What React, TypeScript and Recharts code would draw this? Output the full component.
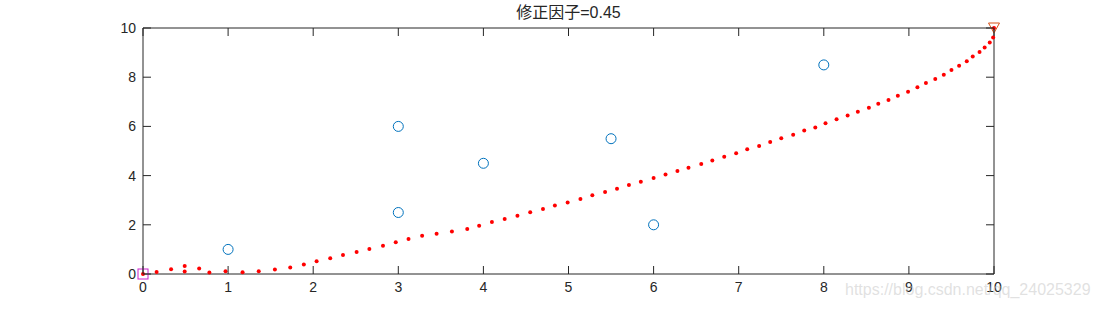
import { ReferenceLine, Scatter, ScatterChart, XAxis, YAxis } from "recharts"

const title = "修正因子=0.45"
const xTicks = [0, 1, 2, 3, 4, 5, 6, 7, 8, 9, 10]
const yTicks = [0, 2, 4, 6, 8, 10]

// sample points (blue circles)
const sampleX = [1, 3, 3, 4, 5.5, 6, 8]
const sampleY = [1, 2.5, 6, 4.5, 5.5, 2, 8.5]

// start / end markers
const startPoint = [{ x: 0, y: 0 }]
const endPoint = [{ x: 10, y: 10 }]

// fitted curve (red dots)
const curveX = [
  0, 0.16, 0.33, 0.49, 0.49, 0.66, 0.78, 0.97, 1.17, 1.36, 1.55, 1.73, 1.89, 2.04, 2.2, 2.35, 2.51, 2.66, 2.82,
  2.97, 3.12, 3.28, 3.45, 3.63, 3.81, 3.95, 4.1, 4.25, 4.4, 4.55, 4.7, 4.84, 4.99, 5.14, 5.28, 5.43, 5.57, 5.71,
  5.85, 6.0, 6.14, 6.28, 6.41, 6.56, 6.69, 6.83, 6.97, 7.1, 7.24, 7.37, 7.5, 7.64, 7.77, 7.9, 8.02, 8.15, 8.28,
  8.4, 8.53, 8.64, 8.76, 8.87, 8.99, 9.1, 9.2, 9.31, 9.41, 9.5, 9.59, 9.68, 9.75, 9.83, 9.89, 9.95, 9.99, 10,
]
const curveY = [
  0, 0.08, 0.19, 0.33, 0.1, 0.22, 0.06, 0.11, 0.07, 0.11, 0.18, 0.26, 0.39, 0.52, 0.64, 0.77, 0.89, 1.02, 1.15,
  1.29, 1.42, 1.55, 1.64, 1.73, 1.83, 1.96, 2.11, 2.24, 2.37, 2.51, 2.64, 2.78, 2.91, 3.05, 3.2, 3.33, 3.47, 3.62,
  3.75, 3.9, 4.04, 4.19, 4.32, 4.47, 4.61, 4.77, 4.91, 5.07, 5.2, 5.37, 5.52, 5.66, 5.83, 5.96, 6.13, 6.29, 6.44,
  6.6, 6.76, 6.92, 7.07, 7.25, 7.41, 7.59, 7.76, 7.93, 8.1, 8.29, 8.47, 8.65, 8.84, 9.02, 9.21, 9.41, 9.61, 10,
]

const curveData = curveX.map((x, i) => ({ x, y: curveY[i] }))
const sampleData = sampleX.map((x, i) => ({ x, y: sampleY[i] }))

const W = 1099
const H = 309
const PLOT_LEFT = 143
const PLOT_RIGHT = 994
const PLOT_TOP = 28
const PLOT_BOTTOM = 274
const TICK_LEN = 8
const INK = "#262626"
const FONT = "Arial, 'Liberation Sans', Helvetica, sans-serif"

const XTick = (props: any) => {
  const { x, payload } = props
  return (
    <g>
      <line x1={x} x2={x} y1={PLOT_BOTTOM} y2={PLOT_BOTTOM - TICK_LEN} stroke={INK} />
      <line x1={x} x2={x} y1={PLOT_TOP} y2={PLOT_TOP + TICK_LEN} stroke={INK} />
      <text x={x} y={PLOT_BOTTOM + 18} textAnchor="middle" fontSize={14} fill={INK} fontFamily={FONT}>
        {payload.value}
      </text>
    </g>
  )
}

const YTick = (props: any) => {
  const { y, payload } = props
  return (
    <g>
      <line x1={PLOT_LEFT} x2={PLOT_LEFT + TICK_LEN} y1={y} y2={y} stroke={INK} />
      <line x1={PLOT_RIGHT} x2={PLOT_RIGHT - TICK_LEN} y1={y} y2={y} stroke={INK} />
      <text x={PLOT_LEFT - 7} y={y + 5} textAnchor="end" fontSize={14} fill={INK} fontFamily={FONT}>
        {payload.value}
      </text>
    </g>
  )
}

export default function App() {
  return (
    <div style={{ position: "absolute", left: 0, top: 0, width: W, height: H, background: "#fff" }}>
      <div
        style={{
          position: "absolute",
          left: PLOT_LEFT,
          width: PLOT_RIGHT - PLOT_LEFT,
          top: 3,
          textAlign: "center",
          fontSize: 16,
          lineHeight: "19px",
          color: INK,
          fontFamily: "Arial, 'Noto Sans CJK SC', sans-serif",
        }}
      >
        {title}
      </div>
      <ScatterChart
        width={W}
        height={H}
        margin={{ top: PLOT_TOP, right: W - PLOT_RIGHT, bottom: 0, left: 0 }}
      >
        <XAxis
          type="number"
          dataKey="x"
          domain={[0, 10]}
          ticks={xTicks}
          interval={0}
          height={H - PLOT_BOTTOM}
          axisLine={{ stroke: INK }}
          tickLine={false}
          tick={<XTick />}
        />
        <YAxis
          type="number"
          dataKey="y"
          domain={[0, 10]}
          ticks={yTicks}
          interval={0}
          width={PLOT_LEFT}
          axisLine={{ stroke: INK }}
          tickLine={false}
          tick={<YTick />}
        />
        <ReferenceLine y={10} stroke={INK} />
        <ReferenceLine x={10} stroke={INK} />
        <Scatter
          data={curveData}
          isAnimationActive={false}
          shape={(p: any) => <circle cx={p.cx} cy={p.cy} r={2} fill="#f00" />}
        />
        <Scatter
          data={sampleData}
          isAnimationActive={false}
          shape={(p: any) => <circle cx={p.cx} cy={p.cy} r={5} fill="none" stroke="#0072BD" strokeWidth={1} />}
        />
        <Scatter
          data={startPoint}
          isAnimationActive={false}
          shape={(p: any) => (
            <rect x={p.cx - 5} y={p.cy - 5} width={10} height={10} fill="none" stroke="#cc22cc" strokeWidth={1} />
          )}
        />
        <Scatter
          data={endPoint}
          isAnimationActive={false}
          shape={(p: any) => (
            <polygon
              points={`${p.cx - 5.5},${p.cy - 5} ${p.cx + 5.5},${p.cy - 5} ${p.cx},${p.cy + 5}`}
              fill="none"
              stroke="#D95319"
              strokeWidth={1}
            />
          )}
        />
      </ScatterChart>
      <div
        style={{
          position: "absolute",
          left: 845,
          top: 281,
          fontSize: 16,
          color: "rgba(200,200,200,0.55)",
          fontFamily: "Arial, sans-serif",
          pointerEvents: "none",
        }}
      >
        https://blog.csdn.net/qq_24025329
      </div>
    </div>
  )
}
